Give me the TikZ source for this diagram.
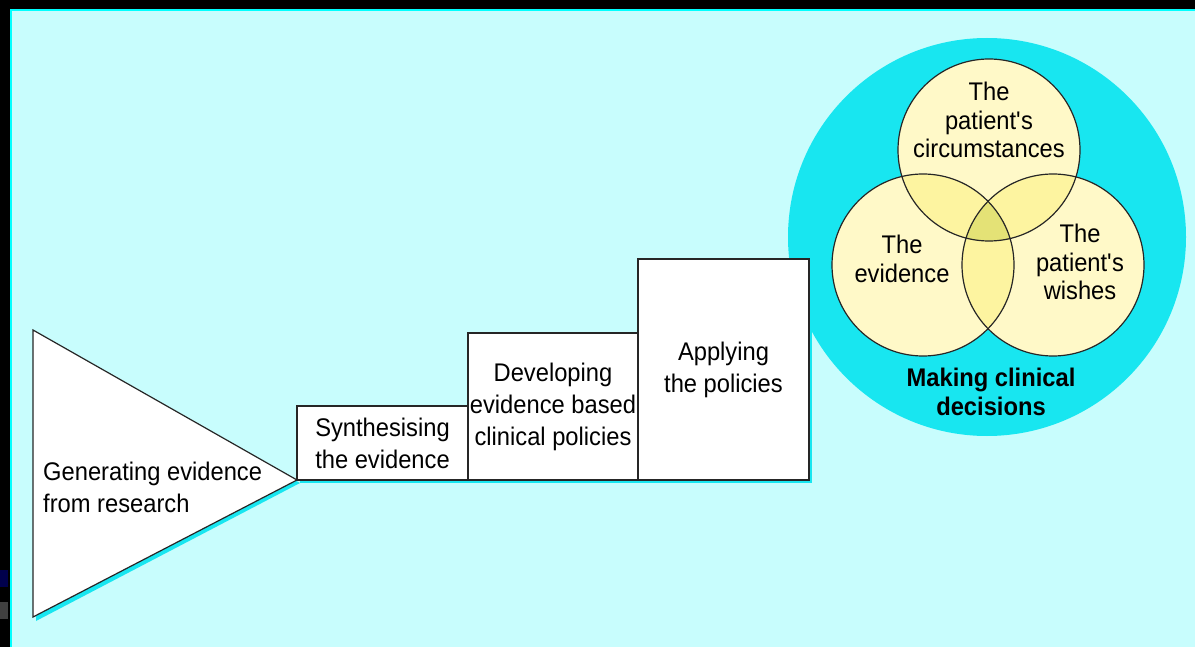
\documentclass[tikz,border=0pt]{standalone}
\usepackage{fontspec}
\setmainfont{Liberation Sans}[FakeStretch=0.93]
\usetikzlibrary{positioning,shadows}
\definecolor{paleblue}{RGB}{200,253,253}
\definecolor{ringcyan}{RGB}{24,230,240}
\definecolor{brightcyan}{RGB}{0,255,255}
\definecolor{venny}{RGB}{255,249,200}
\definecolor{vennpair}{RGB}{253,244,160}
\definecolor{venntriple}{RGB}{228,226,118}

\begin{document}
\begin{tikzpicture}[x=1pt,y=-1pt,
	stage/.style={draw=black!85, fill=white, line width=1.2pt, inner sep=0pt, outer sep=0pt,
		anchor=south west, align=center, font=\fontsize{25.5}{32}\selectfont,
		drop shadow={fill=ringcyan, opacity=1, shadow xshift=3pt, shadow yshift=-3pt}},
	vtext/.style={align=center, inner sep=0pt, font=\fontsize{25.5}{28.5}\selectfont}
	]
	\useasboundingbox (0,0) rectangle (1195,647);
	% frame
	\fill[paleblue] (0,0) rectangle (1195,647);
	\fill[brightcyan] (0,0) rectangle (1195,11);
	\fill[brightcyan] (0,0) rectangle (12,647);
	\fill[black] (0,0) rectangle (1195,9);
	\fill[black] (0,0) rectangle (10,647);
	\fill[blue!30!black] (0,570) rectangle (8,587);
	\fill[black!75] (0,602) rectangle (8,619);

	% decision disc
	\node[circle, fill=ringcyan, minimum size=398pt, inner sep=0pt] (decide) at (987,237) {};

	% triangle
	\fill[ringcyan] (36,333) -- (300,483) -- (36,621) -- cycle;
	\filldraw[fill=white, draw=black!85, line width=1.2pt] (33,330) coordinate (tritop) -- (297,480) coordinate (tip) -- (33,617) coordinate (tribot) -- cycle;
	\node[anchor=west, align=left, inner sep=0pt, font=\fontsize{25.5}{32}\selectfont] (generate) at (43,487) {Generating evidence\\from research};

	% steps
	\node[stage, minimum width=171pt, minimum height=74pt] (synth) at (tip) {Synthesising\\the evidence};
	\node[stage, minimum width=170pt, minimum height=147pt] (develop) at (synth.south east) {Developing\\evidence based\\clinical policies};
	\node[stage, minimum width=171pt, minimum height=221pt] (apply) at (develop.south east) {Applying\\the policies};

	% venn
	\coordinate (ctop) at (989,150);
	\coordinate (cleft) at (923,265);
	\coordinate (cright) at (1053,265);
	\foreach \c in {ctop,cleft,cright}
		\fill[venny] (\c) circle (91pt);
	\begin{scope}
		\clip (ctop) circle (91pt);
		\fill[vennpair] (cleft) circle (91pt);
		\fill[vennpair] (cright) circle (91pt);
	\end{scope}
	\begin{scope}
		\clip (cleft) circle (91pt);
		\fill[vennpair] (cright) circle (91pt);
	\end{scope}
	\begin{scope}
		\clip (ctop) circle (91pt);
		\clip (cleft) circle (91pt);
		\fill[venntriple] (cright) circle (91pt);
	\end{scope}
	\foreach \c in {ctop,cleft,cright}
		\draw[black!85, line width=1.2pt] (\c) circle (91pt);

	\node[vtext] (circtext) at (989,120) {The\\patient\textquotesingle s\\circumstances};
	\node[vtext] (evidtext) at (902,259) {The\\evidence};
	\node[vtext] (wishtext) at (1080,262) {The\\patient\textquotesingle s\\wishes};
	\node[vtext, font=\fontsize{25.5}{28.5}\selectfont\bfseries] (decidetext) at (991,392) {Making clinical\\decisions};
\end{tikzpicture}
\end{document}
